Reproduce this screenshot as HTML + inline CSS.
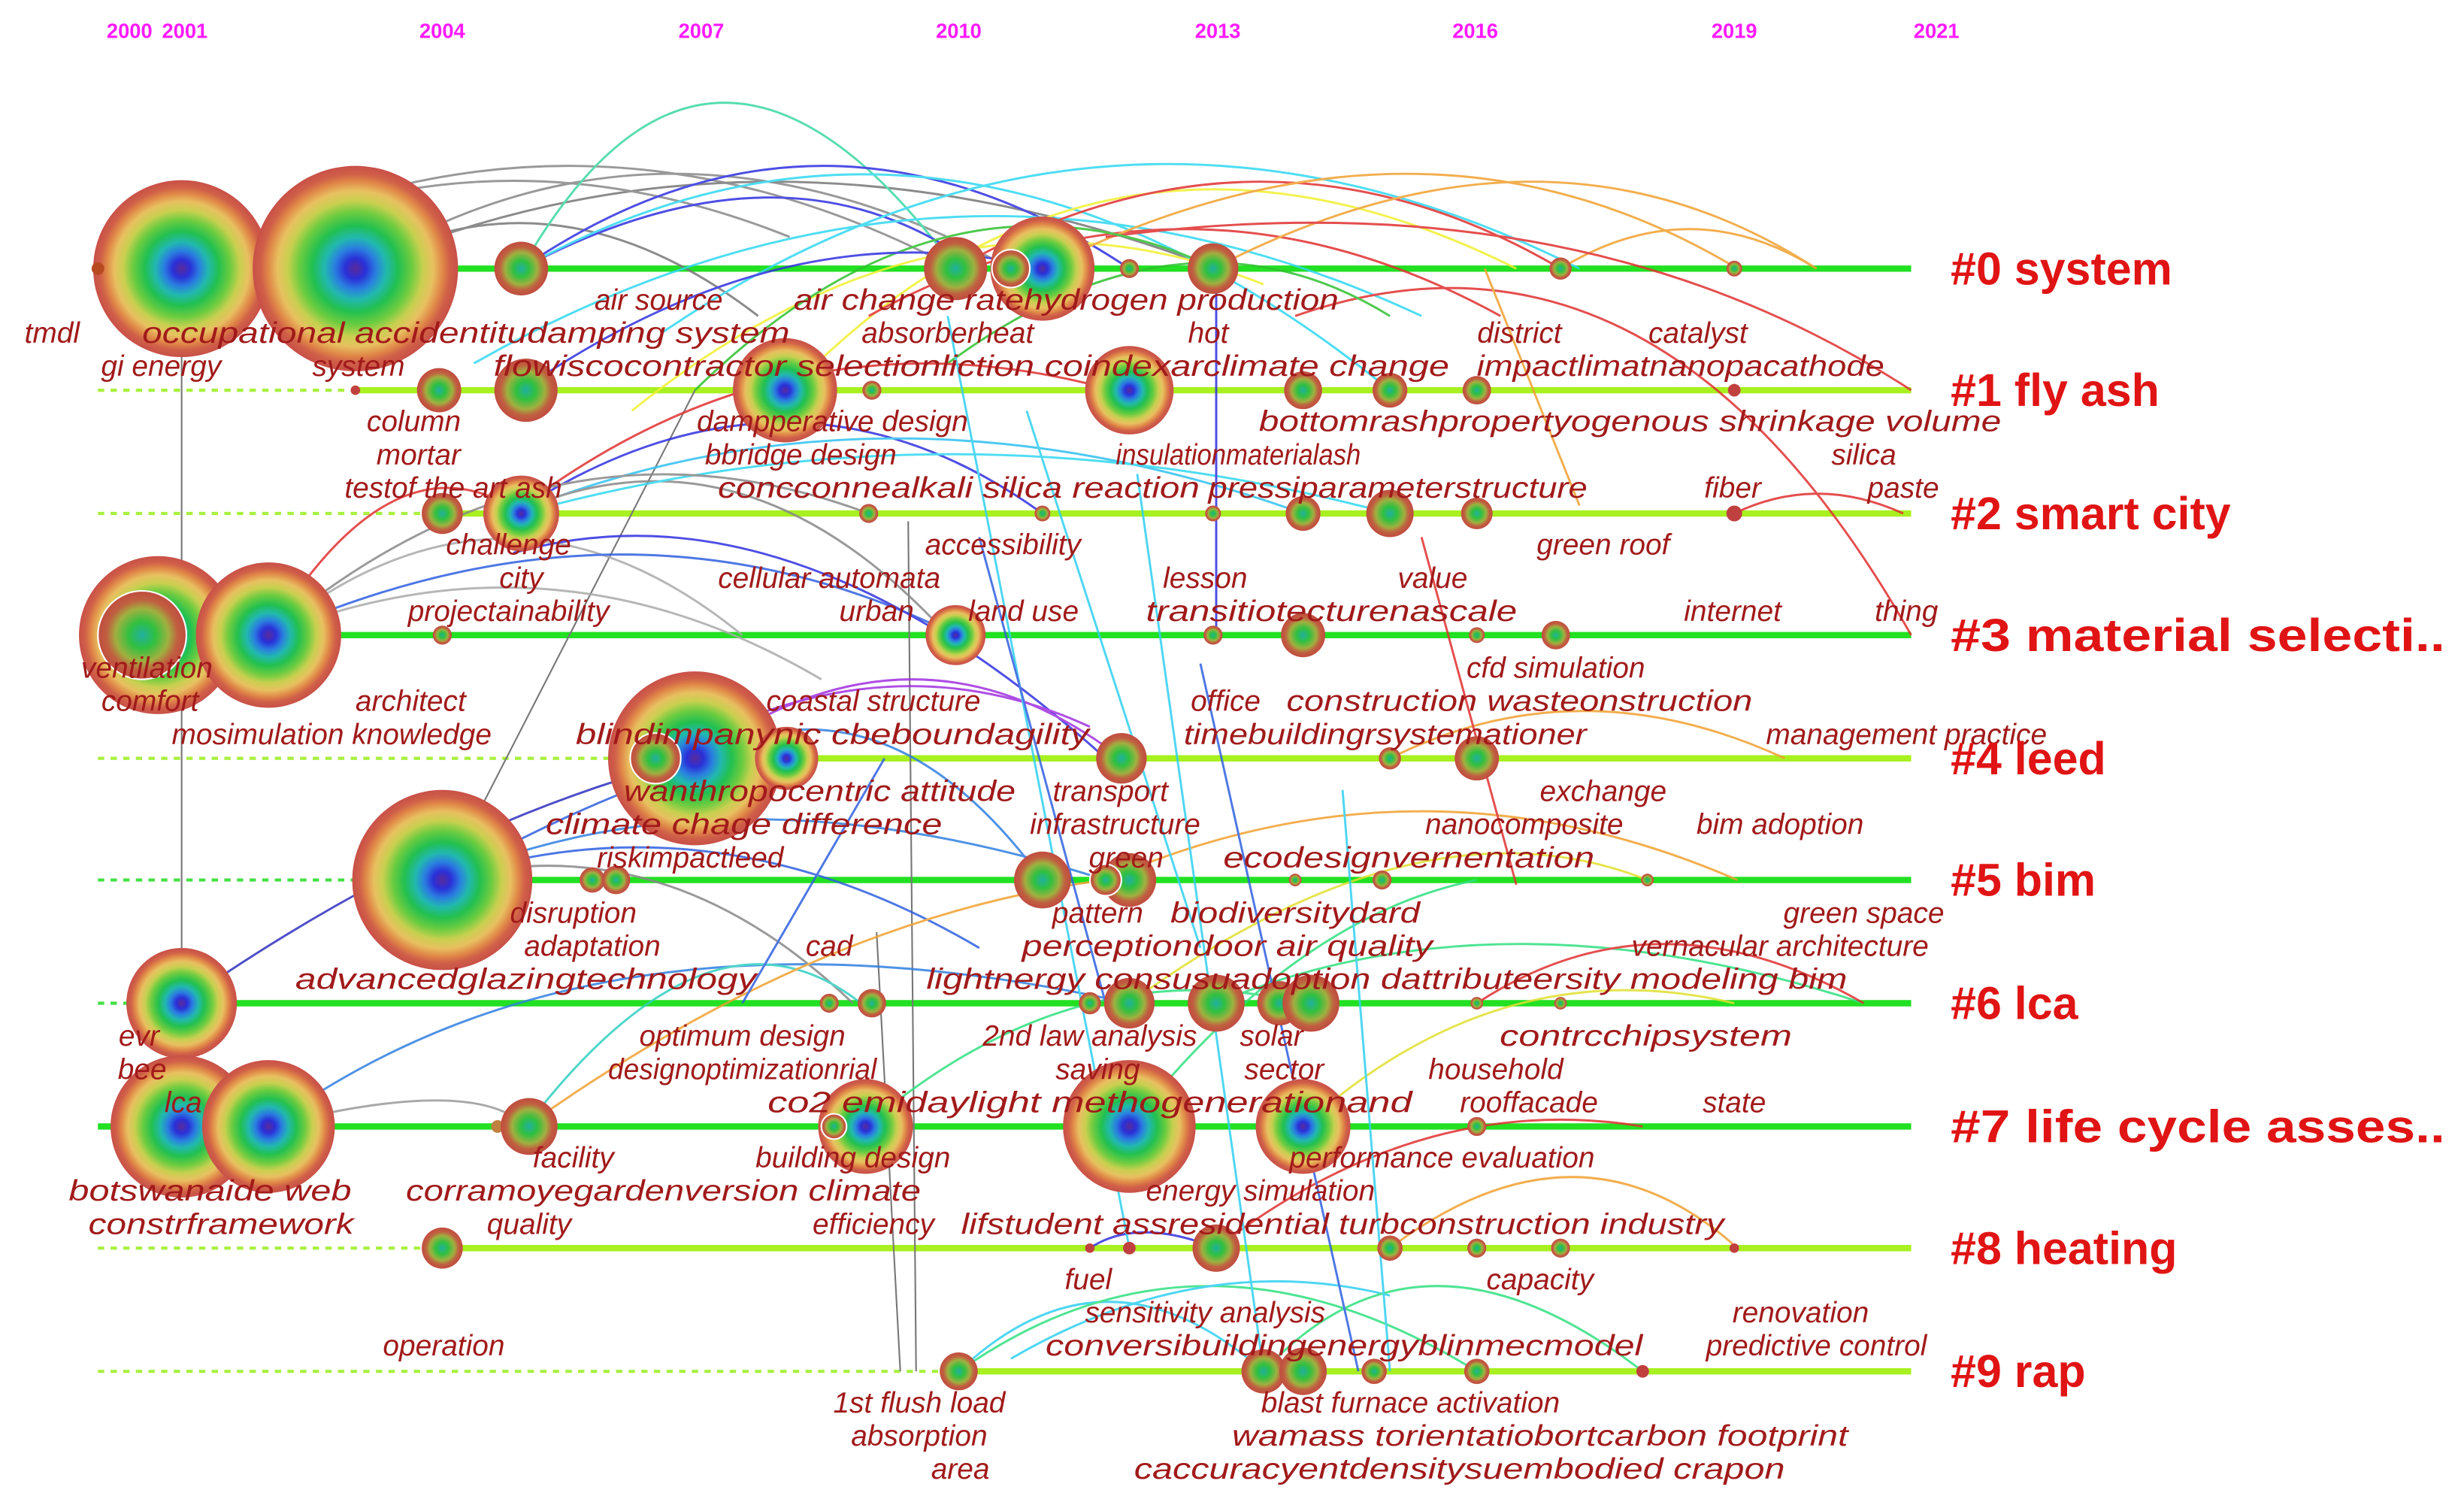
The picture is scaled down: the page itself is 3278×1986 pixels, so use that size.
<!DOCTYPE html>
<html><head><meta charset="utf-8"><style>
html,body{margin:0;padding:0;background:#fff;}
svg{display:block;}
.y{font-family:"Liberation Sans",sans-serif;font-weight:bold;font-size:13px;fill:#ff1aff;text-anchor:middle;}
.l{font-family:"Liberation Sans",sans-serif;font-style:italic;font-size:18.5px;fill:#a11a1a;text-anchor:middle;}
.c{font-family:"Liberation Sans",sans-serif;font-weight:bold;font-size:29px;fill:#e01414;}
.a{fill:none;stroke-width:1.4;opacity:.85;}
</style></head><body>
<svg width="3278" height="1986" viewBox="0 0 1560 945" preserveAspectRatio="none" xmlns="http://www.w3.org/2000/svg">
<defs>
<radialGradient id="g"><stop offset="0" stop-color="#5a2a9a"/><stop offset=".1" stop-color="#2a30d8"/><stop offset=".2" stop-color="#2a7ee0"/><stop offset=".3" stop-color="#22b8b0"/><stop offset=".42" stop-color="#22c050"/><stop offset=".55" stop-color="#6ccc40"/><stop offset=".66" stop-color="#c8d050"/><stop offset=".76" stop-color="#e8c060"/><stop offset=".85" stop-color="#e08848"/><stop offset=".92" stop-color="#d06048"/><stop offset="1" stop-color="#c85048"/></radialGradient>
<radialGradient id="s"><stop offset="0" stop-color="#20b0a0"/><stop offset=".3" stop-color="#30c040"/><stop offset=".6" stop-color="#a0b040"/><stop offset=".8" stop-color="#c06040"/><stop offset="1" stop-color="#c04c40"/></radialGradient>
</defs>
<rect width="1560" height="945" fill="#fff"/>
<g class="y"><text x="82" y="24">2000</text><text x="117" y="24">2001</text><text x="280" y="24">2004</text><text x="444" y="24">2007</text><text x="607" y="24">2010</text><text x="771" y="24">2013</text><text x="934" y="24">2016</text><text x="1098" y="24">2019</text><text x="1226" y="24">2021</text></g>
<g stroke-width="4">
<line x1="62" y1="170" x2="1210" y2="170" stroke="#22e022"/>
<line x1="62" y1="247" x2="225" y2="247" stroke="#a8f040" stroke-dasharray="4 4" stroke-width="2"/><line x1="225" y1="247" x2="1210" y2="247" stroke="#a8f020"/>
<line x1="62" y1="325" x2="270" y2="325" stroke="#a8f040" stroke-dasharray="4 4" stroke-width="2"/><line x1="270" y1="325" x2="1210" y2="325" stroke="#a8f020"/>
<line x1="62" y1="402" x2="1210" y2="402" stroke="#22e022"/>
<line x1="62" y1="480" x2="390" y2="480" stroke="#a8f040" stroke-dasharray="4 4" stroke-width="2"/><line x1="390" y1="480" x2="1210" y2="480" stroke="#a8f020"/>
<line x1="62" y1="557" x2="225" y2="557" stroke="#44e044" stroke-dasharray="4 4" stroke-width="2"/><line x1="225" y1="557" x2="1210" y2="557" stroke="#22e022"/>
<line x1="62" y1="635" x2="80" y2="635" stroke="#44e044" stroke-dasharray="4 4" stroke-width="2"/><line x1="80" y1="635" x2="1210" y2="635" stroke="#22e022"/>
<line x1="62" y1="713" x2="1210" y2="713" stroke="#22e022"/>
<line x1="62" y1="790" x2="268" y2="790" stroke="#a8f040" stroke-dasharray="4 4" stroke-width="2"/><line x1="268" y1="790" x2="1210" y2="790" stroke="#a8f020"/>
<line x1="62" y1="868" x2="595" y2="868" stroke="#a8f040" stroke-dasharray="4 4" stroke-width="2"/><line x1="595" y1="868" x2="1210" y2="868" stroke="#a8f020"/>
</g>
<g stroke="#777" stroke-width="1" fill="none">
<line x1="115" y1="170" x2="115" y2="713"/><line x1="575" y1="330" x2="580" y2="868"/><line x1="555" y1="590" x2="570" y2="868"/><line x1="300" y1="520" x2="440" y2="247"/>
</g>
<g class="a">
<path d="M115 170 Q360 40 605 170" stroke="#888"/>
<path d="M225 170 Q420 50 640 170" stroke="#888"/>
<path d="M225 170 Q480 60 770 170" stroke="#777"/>
<path d="M115 170 Q300 70 500 150" stroke="#888"/>
<path d="M225 170 Q350 100 480 200" stroke="#777"/>
<path d="M330 170 Q450 -40 605 170" stroke="#3ad8a0"/>
<path d="M330 170 Q520 40 715 170" stroke="#3030e0"/>
<path d="M330 170 Q500 80 620 170" stroke="#3030e0"/>
<path d="M330 170 Q600 20 880 247" stroke="#30d8f0"/>
<path d="M420 210 Q700 20 1000 170" stroke="#30d8f0"/>
<path d="M300 230 Q600 60 900 200" stroke="#30d8f0"/>
<path d="M500 247 Q700 40 960 170" stroke="#f0f030"/>
<path d="M400 260 Q600 100 800 180" stroke="#f0f030"/>
<path d="M605 170 Q800 60 988 170" stroke="#e03030"/>
<path d="M550 200 Q750 90 950 200" stroke="#e03030"/>
<path d="M660 170 Q900 50 1100 170" stroke="#f0a030"/>
<path d="M768 170 Q980 60 1150 170" stroke="#f0a030"/>
<path d="M988 170 Q1070 120 1150 170" stroke="#f0a030"/>
<path d="M700 150 Q1000 110 1210 247" stroke="#e03030"/>
<path d="M820 200 Q1050 120 1210 402" stroke="#e03030"/>
<path d="M440 247 Q600 90 770 170" stroke="#30c030"/>
<path d="M600 230 Q750 120 880 200" stroke="#30c030"/>
<path d="M330 247 Q500 130 660 170" stroke="#3030e0"/>
<path d="M325 325 Q500 190 705 247" stroke="#e03030"/>
<path d="M325 325 Q500 210 660 325" stroke="#3030e0"/>
<path d="M325 325 Q560 230 825 325" stroke="#30c0f0"/>
<path d="M325 325 Q470 260 600 402" stroke="#888"/>
<path d="M330 325 Q600 250 880 325" stroke="#30d8f0"/>
<path d="M170 402 Q350 250 550 325" stroke="#888"/>
<path d="M170 402 Q320 280 470 402" stroke="#aaa"/>
<path d="M170 402 Q250 270 330 325" stroke="#e03030"/>
<path d="M170 402 Q400 300 605 402" stroke="#3060e0"/>
<path d="M170 402 Q350 330 520 430" stroke="#aaa"/>
<path d="M325 350 Q500 300 700 480" stroke="#3030e0"/>
<path d="M440 480 Q580 380 710 480" stroke="#a030e0"/>
<path d="M440 480 Q560 420 660 557" stroke="#3080e0"/>
<path d="M420 480 Q560 400 690 460" stroke="#a030e0"/>
<path d="M280 557 Q440 470 498 480" stroke="#3060e0"/>
<path d="M280 557 Q460 480 700 557" stroke="#3080e0"/>
<path d="M280 557 Q420 520 540 635" stroke="#888"/>
<path d="M280 557 Q450 500 620 600" stroke="#3060e0"/>
<path d="M115 635 Q280 520 440 480" stroke="#3030c0"/>
<path d="M170 713 Q380 560 715 635" stroke="#3080e0"/>
<path d="M170 713 Q300 680 333 713" stroke="#999"/>
<path d="M333 713 Q450 560 545 635" stroke="#30d0c0"/>
<path d="M333 713 Q520 580 700 557" stroke="#f0a030"/>
<path d="M548 713 Q680 600 825 635" stroke="#30e080"/>
<path d="M715 713 Q820 580 935 557" stroke="#30e080"/>
<path d="M700 557 Q900 470 1100 557" stroke="#f0a030"/>
<path d="M715 635 Q900 500 1043 557" stroke="#e0e030"/>
<path d="M825 713 Q950 600 1098 635" stroke="#e0e030"/>
<path d="M770 635 Q950 560 1180 635" stroke="#30e080"/>
<path d="M770 790 Q900 690 1040 713" stroke="#e03030"/>
<path d="M607 868 Q700 780 800 868" stroke="#30d0f0"/>
<path d="M607 868 Q760 760 935 868" stroke="#30e080"/>
<path d="M640 860 Q760 790 880 820" stroke="#30d0f0"/>
<path d="M690 790 Q720 770 770 790" stroke="#3030e0"/>
<path d="M800 868 Q900 760 1040 868" stroke="#30e080"/>
<path d="M880 790 Q1000 700 1100 790" stroke="#f0a030"/>
<path d="M935 635 Q1050 560 1180 635" stroke="#e03030"/>
<path d="M880 480 Q1000 420 1130 480" stroke="#f0a030"/>
<path d="M1098 325 Q1150 300 1205 325" stroke="#e03030"/>
<path d="M600 200 L715 790" stroke="#30d0f0"/>
<path d="M720 300 L800 868" stroke="#30d0f0"/>
<path d="M770 170 L770 402" stroke="#3030e0"/>
<path d="M850 500 L880 868" stroke="#30d0f0"/>
<path d="M760 420 L860 868" stroke="#3060e0"/>
<path d="M620 340 L700 635" stroke="#3060e0"/>
<path d="M900 340 L960 560" stroke="#e03030"/>
<path d="M940 170 L1000 320" stroke="#f0a030"/>
<path d="M650 260 L760 600" stroke="#30d0f0"/>
<path d="M560 480 L470 635" stroke="#3060e0"/>
</g>
<g>
<circle cx="115" cy="170" r="56" fill="url(#g)"/><circle cx="225" cy="170" r="65" fill="url(#g)"/><circle cx="330" cy="170" r="17" fill="url(#s)"/><circle cx="605" cy="170" r="20" fill="url(#s)"/><circle cx="660" cy="170" r="33" fill="url(#g)"/><circle cx="640" cy="170" r="12" fill="url(#s)" stroke="#fff"/><circle cx="768" cy="170" r="16" fill="url(#s)"/><circle cx="715" cy="170" r="6" fill="url(#s)"/><circle cx="988" cy="170" r="7" fill="url(#s)"/><circle cx="1098" cy="170" r="5" fill="url(#s)"/><circle cx="62" cy="170" r="4" fill="#b84a20"/>
<circle cx="225" cy="247" r="3" fill="#c04040"/><circle cx="278" cy="247" r="14" fill="url(#s)"/><circle cx="333" cy="247" r="20" fill="url(#s)"/><circle cx="497" cy="247" r="33" fill="url(#g)"/><circle cx="552" cy="247" r="6" fill="url(#s)"/><circle cx="715" cy="247" r="28" fill="url(#g)"/><circle cx="825" cy="247" r="12" fill="url(#s)"/><circle cx="880" cy="247" r="11" fill="url(#s)"/><circle cx="935" cy="247" r="9" fill="url(#s)"/><circle cx="1098" cy="247" r="4" fill="#c04040"/>
<circle cx="280" cy="325" r="13" fill="url(#s)"/><circle cx="330" cy="325" r="24" fill="url(#g)"/><circle cx="550" cy="325" r="6" fill="url(#s)"/><circle cx="660" cy="325" r="5" fill="url(#s)"/><circle cx="768" cy="325" r="5" fill="url(#s)"/><circle cx="825" cy="325" r="11" fill="url(#s)"/><circle cx="880" cy="325" r="15" fill="url(#s)"/><circle cx="935" cy="325" r="10" fill="url(#s)"/><circle cx="1098" cy="325" r="5" fill="#c04040"/>
<circle cx="100" cy="402" r="50" fill="url(#g)"/><circle cx="90" cy="402" r="28" fill="url(#s)" stroke="#fff"/><circle cx="170" cy="402" r="46" fill="url(#g)"/><circle cx="280" cy="402" r="6" fill="url(#s)"/><circle cx="605" cy="402" r="19" fill="url(#g)"/><circle cx="768" cy="402" r="6" fill="url(#s)"/><circle cx="825" cy="402" r="14" fill="url(#s)"/><circle cx="935" cy="402" r="5" fill="url(#s)"/><circle cx="985" cy="402" r="9" fill="url(#s)"/>
<circle cx="440" cy="480" r="55" fill="url(#g)"/><circle cx="415" cy="480" r="16" fill="url(#s)" stroke="#fff"/><circle cx="498" cy="480" r="20" fill="url(#g)"/><circle cx="710" cy="480" r="16" fill="url(#s)"/><circle cx="880" cy="480" r="7" fill="url(#s)"/><circle cx="935" cy="480" r="14" fill="url(#s)"/>
<circle cx="280" cy="557" r="57" fill="url(#g)"/><circle cx="375" cy="557" r="8" fill="url(#s)"/><circle cx="390" cy="557" r="9" fill="url(#s)"/><circle cx="660" cy="557" r="18" fill="url(#s)"/><circle cx="715" cy="557" r="17" fill="url(#s)"/><circle cx="700" cy="557" r="10" fill="url(#s)" stroke="#fff"/><circle cx="820" cy="557" r="4" fill="url(#s)"/><circle cx="875" cy="557" r="6" fill="url(#s)"/><circle cx="1043" cy="557" r="4" fill="url(#s)"/>
<circle cx="115" cy="635" r="35" fill="url(#g)"/><circle cx="525" cy="635" r="6" fill="url(#s)"/><circle cx="552" cy="635" r="9" fill="url(#s)"/><circle cx="690" cy="635" r="7" fill="url(#s)"/><circle cx="715" cy="635" r="16" fill="url(#s)"/><circle cx="770" cy="635" r="18" fill="url(#s)"/><circle cx="810" cy="635" r="14" fill="url(#s)"/><circle cx="830" cy="635" r="18" fill="url(#s)"/><circle cx="935" cy="635" r="4" fill="url(#s)"/><circle cx="988" cy="635" r="4" fill="url(#s)"/>
<circle cx="115" cy="713" r="45" fill="url(#g)"/><circle cx="170" cy="713" r="42" fill="url(#g)"/><circle cx="315" cy="713" r="4" fill="#c08040"/><circle cx="335" cy="713" r="18" fill="url(#s)"/><circle cx="548" cy="713" r="30" fill="url(#g)"/><circle cx="528" cy="713" r="8" fill="url(#s)" stroke="#fff"/><circle cx="715" cy="713" r="42" fill="url(#g)"/><circle cx="825" cy="713" r="30" fill="url(#g)"/><circle cx="935" cy="713" r="6" fill="url(#s)"/>
<circle cx="280" cy="790" r="13" fill="url(#s)"/><circle cx="690" cy="790" r="3" fill="#c04040"/><circle cx="715" cy="790" r="4" fill="#c04040"/><circle cx="770" cy="790" r="15" fill="url(#s)"/><circle cx="880" cy="790" r="8" fill="url(#s)"/><circle cx="935" cy="790" r="6" fill="url(#s)"/><circle cx="988" cy="790" r="6" fill="url(#s)"/><circle cx="1098" cy="790" r="3" fill="#c04040"/>
<circle cx="607" cy="868" r="12" fill="url(#s)"/><circle cx="800" cy="868" r="14" fill="url(#s)"/><circle cx="825" cy="868" r="15" fill="url(#s)"/><circle cx="870" cy="868" r="8" fill="url(#s)"/><circle cx="935" cy="868" r="8" fill="url(#s)"/><circle cx="1040" cy="868" r="4" fill="#c04040"/>
</g>
<g class="l">
<text x="417" y="196">air source</text><text x="675" y="196" textLength="345" lengthAdjust="spacingAndGlyphs">air change ratehydrogen production</text>
<text x="33" y="217">tmdl</text><text x="295" y="217" textLength="410" lengthAdjust="spacingAndGlyphs">occupational accidentitudamping system</text><text x="600" y="217">absorberheat</text><text x="765" y="217">hot</text><text x="962" y="217">district</text><text x="1075" y="217">catalyst</text>
<text x="102" y="238">gi  energy</text><text x="227" y="238">system</text><text x="615" y="238" textLength="605" lengthAdjust="spacingAndGlyphs">flowiscocontractor selectionliction coindexarclimate change</text><text x="1064" y="238" textLength="258" lengthAdjust="spacingAndGlyphs">impactlimatnanopacathode</text>
<text x="262" y="273">column</text><text x="527" y="273">dampperative design</text><text x="1032" y="273" textLength="470" lengthAdjust="spacingAndGlyphs">bottomrashpropertyogenous shrinkage volume</text>
<text x="265" y="294">mortar</text><text x="507" y="294">bbridge design</text><text x="784" y="294" textLength="155" lengthAdjust="spacingAndGlyphs">insulationmaterialash</text><text x="1180" y="294">silica</text>
<text x="287" y="315">testof the art ash</text><text x="607" y="315" textLength="305" lengthAdjust="spacingAndGlyphs">concconnealkali silica reaction</text><text x="885" y="315" textLength="240" lengthAdjust="spacingAndGlyphs">pressiparameterstructure</text><text x="1097" y="315">fiber</text><text x="1205" y="315">paste</text>
<text x="322" y="351">challenge</text><text x="635" y="351">accessibility</text><text x="1015" y="351">green roof</text>
<text x="330" y="372">city</text><text x="525" y="372">cellular automata</text><text x="763" y="372">lesson</text><text x="907" y="372">value</text>
<text x="322" y="393">projectainability</text><text x="555" y="393">urban</text><text x="648" y="393">land use</text><text x="843" y="393" textLength="235" lengthAdjust="spacingAndGlyphs">transitiotecturenascale</text><text x="1097" y="393">internet</text><text x="1207" y="393">thing</text>
<text x="93" y="429">ventilation</text><text x="985" y="429">cfd simulation</text>
<text x="95" y="450">comfort</text><text x="260" y="450">architect</text><text x="553" y="450">coastal structure</text><text x="776" y="450">office</text><text x="962" y="450" textLength="295" lengthAdjust="spacingAndGlyphs">construction wasteonstruction</text>
<text x="210" y="471">mosimulation knowledge</text><text x="527" y="471" textLength="325" lengthAdjust="spacingAndGlyphs">blindimpanynic cbeboundagility</text><text x="877" y="471" textLength="255" lengthAdjust="spacingAndGlyphs">timebuildingrsystemationer</text><text x="1207" y="471">management practice</text>
<text x="519" y="507" textLength="248" lengthAdjust="spacingAndGlyphs">wanthropocentric attitude</text><text x="703" y="507">transport</text><text x="1015" y="507">exchange</text>
<text x="471" y="528" textLength="251" lengthAdjust="spacingAndGlyphs">climate chage difference</text><text x="706" y="528">infrastructure</text><text x="965" y="528">nanocomposite</text><text x="1127" y="528">bim adoption</text>
<text x="437" y="549">riskimpactleed</text><text x="713" y="549">green</text><text x="892" y="549" textLength="235" lengthAdjust="spacingAndGlyphs">ecodesignvernentation</text>
<text x="363" y="584">disruption</text><text x="695" y="584">pattern</text><text x="820" y="584" textLength="158" lengthAdjust="spacingAndGlyphs">biodiversitydard</text><text x="1180" y="584">green space</text>
<text x="375" y="605">adaptation</text><text x="525" y="605">cad</text><text x="777" y="605" textLength="260" lengthAdjust="spacingAndGlyphs">perceptiondoor air quality</text><text x="1127" y="605">vernacular architecture</text>
<text x="333" y="626" textLength="292" lengthAdjust="spacingAndGlyphs">advancedglazingtechnology</text><text x="878" y="626" textLength="583" lengthAdjust="spacingAndGlyphs">lightnergy consusuadoption dattributeersity modeling bim</text>
<text x="88" y="662">evr</text><text x="470" y="662">optimum design</text><text x="690" y="662">2nd law analysis</text><text x="805" y="662">solar</text><text x="1042" y="662" textLength="185" lengthAdjust="spacingAndGlyphs">contrcchipsystem</text>
<text x="90" y="683">bee</text><text x="470" y="683" textLength="170" lengthAdjust="spacingAndGlyphs">designoptimizationrial</text><text x="695" y="683">saving</text><text x="813" y="683">sector</text><text x="947" y="683">household</text>
<text x="116" y="704">lca</text><text x="690" y="704" textLength="408" lengthAdjust="spacingAndGlyphs">co2 emidaylight methogenerationand</text><text x="968" y="704">rooffacade</text><text x="1098" y="704">state</text>
<text x="363" y="739">facility</text><text x="540" y="739">building design</text><text x="913" y="739">performance evaluation</text>
<text x="133" y="760" textLength="179" lengthAdjust="spacingAndGlyphs">botswanaide web</text><text x="420" y="760" textLength="326" lengthAdjust="spacingAndGlyphs">corramoyegardenversion climate</text><text x="798" y="760">energy simulation</text>
<text x="140" y="781" textLength="168" lengthAdjust="spacingAndGlyphs">constrframework</text><text x="335" y="781">quality</text><text x="553" y="781">efficiency</text><text x="850" y="781" textLength="483" lengthAdjust="spacingAndGlyphs">lifstudent assresidential turbconstruction industry</text>
<text x="689" y="816">fuel</text><text x="975" y="816">capacity</text>
<text x="763" y="837">sensitivity analysis</text><text x="1140" y="837">renovation</text>
<text x="281" y="858">operation</text><text x="851" y="858" textLength="378" lengthAdjust="spacingAndGlyphs">conversibuildingenergyblinmecmodel</text><text x="1150" y="858">predictive control</text>
<text x="582" y="894">1st flush load</text><text x="893" y="894">blast furnace activation</text>
<text x="582" y="915">absorption</text><text x="975" y="915" textLength="390" lengthAdjust="spacingAndGlyphs">wamass torientatiobortcarbon footprint</text>
<text x="608" y="936">area</text><text x="924" y="936" textLength="412" lengthAdjust="spacingAndGlyphs">caccuracyentdensitysuembodied crapon</text>
</g>
<g class="c">
<text x="1235" y="170" dy="10">#0 system</text>
<text x="1235" y="247" dy="10">#1 fly ash</text>
<text x="1235" y="325" dy="10">#2 smart city</text>
<text x="1235" y="402" dy="10" textLength="313" lengthAdjust="spacingAndGlyphs">#3 material selecti..</text>
<text x="1235" y="480" dy="10">#4 leed</text>
<text x="1235" y="557" dy="10">#5 bim</text>
<text x="1235" y="635" dy="10">#6 lca</text>
<text x="1235" y="713" dy="10" textLength="313" lengthAdjust="spacingAndGlyphs">#7 life cycle asses..</text>
<text x="1235" y="790" dy="10">#8 heating</text>
<text x="1235" y="868" dy="10">#9 rap</text>
</g>
</svg>
</body></html>
